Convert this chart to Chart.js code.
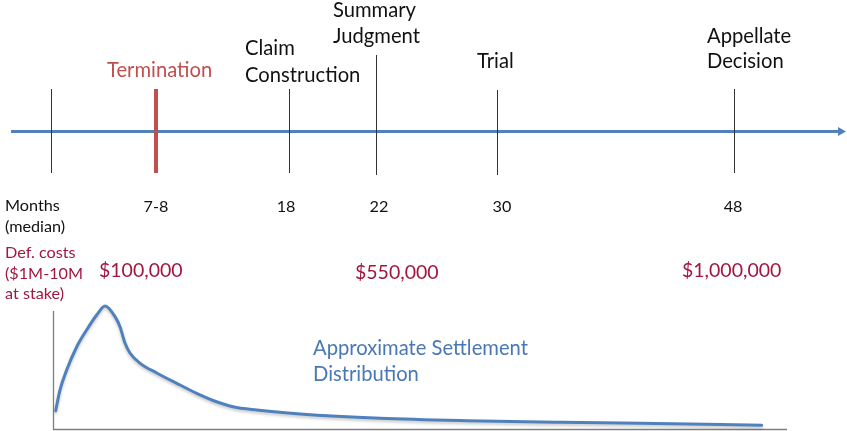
<!DOCTYPE html>
<html>
<head>
<meta charset="utf-8">
<script src="https://cdn.jsdelivr.net/npm/chart.js@4.4.1/dist/chart.umd.min.js"></script>
<style>
  html, body { margin: 0; padding: 0; background: #ffffff; }
  #c { display: block; }
</style>
</head>
<body>
<canvas id="c" width="847" height="431"></canvas>
<script>
// ---------------- DATA ----------------
// Litigation milestones along the schematic timeline
const eventNames = [["Termination"], ["Claim", "Construction"], ["Summary", "Judgment"], ["Trial"], ["Appellate", "Decision"]];
const monthLabels = ["7-8", "18", "22", "30", "48"];
// position of each milestone along the (schematic) timeline
const eventPositions = [7.38, 16.73, 22.84, 31.34, 48];
const timelineOrigin = 0;
// defence costs at three stages
const costLabels = ["$100,000", "$550,000", "$1,000,000"];
// approximate settlement distribution (timeline position, relative density)
const settleX = [0.33, 0.63, 1.10, 1.81, 2.51, 3.21, 3.80, 4.50, 4.85, 5.20, 5.55, 6.25, 7.43, 9.07, 10.47, 11.39, 12.79, 14.46, 17.50, 23.12, 29.24, 35.77, 41.40, 49.95];
const settleY = [14.7, 31.5, 47.8, 66.8, 80.6, 92.7, 100, 91.3, 83.1, 69.8, 61.7, 53.5, 45.4, 35.6, 27.5, 23.0, 17.9, 15.2, 12.0, 8.5, 6.5, 5.2, 4.4, 2.8];

// ---------------- STYLE / LAYOUT ----------------
const FONT = "Lato, 'Open Sans', sans-serif";
const BLUE = "#4F81BD";
const RED = "#C0504D";
const DARKRED = "#A0173F";
const TEXTBLUE = "#4A78B4";
const BLACK = "#111111";
const BIG = 20.2, COST = 19.5, SMALL = 16.2;

// text layout (left x, baseline y) for the annotation labels
const eventTextLayout = [
  { x: 107, y: [77], color: RED },
  { x: 245, y: [55, 81.5], color: BLACK },
  { x: 333, y: [17, 43], color: BLACK },
  { x: 477, y: [68], color: BLACK },
  { x: 707, y: [43, 68], color: BLACK }
];
const tickExtent = [[89, 173], [89, 173], [55, 175], [90, 175], [89, 173]];
const monthDx = [0, -3, 3, 5, -1];
const costLayout = [{ x: 99, y: 277 }, { x: 355, y: 279 }, { x: 682, y: 277 }];

const points = settleX.map((x, i) => ({ x: x, y: settleY[i] }));

const decor = {
  id: "decor",
  beforeDatasetsDraw(chart) {
    const ctx = chart.ctx;
    const xs = chart.scales.x;
    const ys = chart.scales.yS;
    ctx.save();
    // timeline arrow
    const ty = 131.5;
    ctx.strokeStyle = BLUE;
    ctx.lineWidth = 3;
    ctx.beginPath();
    ctx.moveTo(11, ty);
    ctx.lineTo(840, ty);
    ctx.stroke();
    ctx.fillStyle = BLUE;
    ctx.beginPath();
    ctx.moveTo(838, ty - 4.5);
    ctx.lineTo(846, ty);
    ctx.lineTo(838, ty + 4.5);
    ctx.closePath();
    ctx.fill();

    // origin tick
    ctx.strokeStyle = "#333333";
    ctx.lineWidth = 1;
    const ox = Math.round(xs.getPixelForValue(timelineOrigin)) + 0.5;
    ctx.beginPath();
    ctx.moveTo(ox, 89);
    ctx.lineTo(ox, 173);
    ctx.stroke();

    // milestone ticks
    eventPositions.forEach((p, i) => {
      const px = xs.getPixelForValue(p);
      if (i === 0) {
        ctx.strokeStyle = RED;
        ctx.lineWidth = 4;
        ctx.beginPath();
        ctx.moveTo(px, tickExtent[i][0]);
        ctx.lineTo(px, tickExtent[i][1]);
        ctx.stroke();
      } else {
        ctx.strokeStyle = "#333333";
        ctx.lineWidth = 1;
        const rx = Math.round(px) + 0.5;
        ctx.beginPath();
        ctx.moveTo(rx, tickExtent[i][0]);
        ctx.lineTo(rx, tickExtent[i][1]);
        ctx.stroke();
      }
    });

    // settlement chart axes
    const ax = 53.5;
    const ay = Math.round(ys.getPixelForValue(0)) + 0.5;
    ctx.strokeStyle = "#7F7F7F";
    ctx.lineWidth = 1.3;
    ctx.beginPath();
    ctx.moveTo(ax, 311);
    ctx.lineTo(ax, ay);
    ctx.lineTo(787, ay);
    ctx.stroke();

    // texts
    ctx.textBaseline = "alphabetic";
    ctx.textAlign = "left";
    ctx.font = BIG + "px " + FONT;
    eventNames.forEach((lines, i) => {
      const L = eventTextLayout[i];
      ctx.fillStyle = L.color;
      lines.forEach((t, j) => ctx.fillText(t, L.x, L.y[j]));
    });

    ctx.font = SMALL + "px " + FONT;
    ctx.fillStyle = BLACK;
    ctx.fillText("Months", 5, 211);
    ctx.fillText("(median)", 5, 232);
    ctx.textAlign = "center";
    monthLabels.forEach((m, i) => {
      ctx.fillText(m, xs.getPixelForValue(eventPositions[i]) + monthDx[i], 212);
    });

    ctx.textAlign = "left";
    ctx.fillStyle = DARKRED;
    ctx.fillText("Def. costs", 5, 258);
    ctx.fillText("($1M-10M", 5, 279);
    ctx.fillText("at stake)", 5, 299);

    ctx.font = COST + "px " + FONT;
    costLabels.forEach((c, i) => ctx.fillText(c, costLayout[i].x, costLayout[i].y));

    ctx.font = BIG + "px " + FONT;
    ctx.fillStyle = TEXTBLUE;
    ctx.fillText("Approximate Settlement", 313, 355);
    ctx.fillText("Distribution", 313, 381);
    ctx.restore();
  },
  beforeDatasetDraw(chart) {
    const ctx = chart.ctx;
    ctx.save();
    ctx.shadowColor = "rgba(0,0,0,0.22)";
    ctx.shadowBlur = 3;
    ctx.shadowOffsetY = 2;
  },
  afterDatasetDraw(chart) {
    chart.ctx.restore();
  }
};

new Chart(document.getElementById("c"), {
  type: "line",
  data: {
    datasets: [{
      label: "Approximate Settlement Distribution",
      data: points,
      xAxisID: "x",
      yAxisID: "yS",
      borderColor: BLUE,
      borderWidth: 3,
      pointRadius: 0,
      fill: false,
      cubicInterpolationMode: "monotone",
      borderCapStyle: "round"
    }]
  },
  options: {
    responsive: false,
    animation: false,
    devicePixelRatio: 1,
    layout: { padding: 0 },
    plugins: { legend: { display: false }, tooltip: { enabled: false } },
    events: [],
    scales: {
      x: { type: "linear", min: -3.584, max: 55.94, display: false },
      yS: { type: "linear", min: -1.87, max: 349.4, display: false }
    }
  },
  plugins: [decor]
});
</script>
</body>
</html>
